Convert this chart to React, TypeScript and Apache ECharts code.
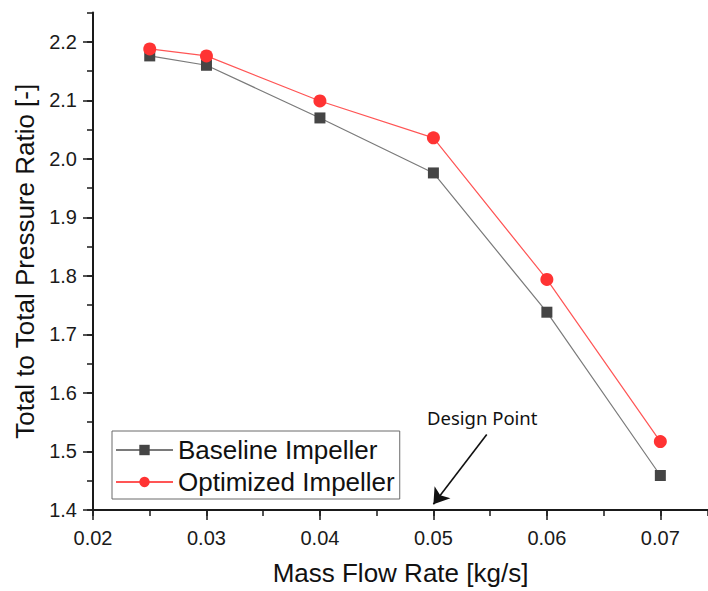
import React, { useEffect, useRef } from "react";
import * as echarts from "echarts";

const massFlow = [0.025, 0.03, 0.04, 0.05, 0.06, 0.07];
const baseline = [2.176, 2.16, 2.07, 1.976, 1.738, 1.459];
const optimized = [2.188, 2.176, 2.099, 2.036, 1.794, 1.517];
const seriesNames = ["Baseline Impeller", "Optimized Impeller"];
const xMajorTicks = [0.02, 0.03, 0.04, 0.05, 0.06, 0.07];
const yMajorTicks = [1.4, 1.5, 1.6, 1.7, 1.8, 1.9, 2.0, 2.1, 2.2];
const arrowFrom = [0.0547, 1.529];
const arrowTo = [0.05, 1.41];
const annotationText = "Design Point";

const AXIS_COLOR = "#1a1a1a";
const FONT = "Liberation Sans";

export default function App() {
  const ref = useRef<HTMLDivElement>(null);
  useEffect(() => {
    if (!ref.current) return;
    const chart = echarts.init(ref.current, null, { renderer: "svg" });
    const xMin = 0.02, xMax = 0.0742, yMin = 1.4, yMax = 2.25;
    const minorAxisCommon = (min: number, max: number, interval: number) => ({
      type: "value",
      min,
      max,
      interval,
      axisLine: { show: true, lineStyle: { color: AXIS_COLOR, width: 2 } },
      axisTick: { show: true, length: 6, lineStyle: { color: AXIS_COLOR, width: 1.5 } },
      axisLabel: { show: false },
      splitLine: { show: false },
    });
    chart.setOption({
      animation: false,
      backgroundColor: "#ffffff",
      grid: { left: 93, right: 0, top: 12.6, bottom: 78, containLabel: false },
      legend: {
        data: seriesNames,
        orient: "vertical",
        left: 112,
        top: 431,
        itemWidth: 57,
        itemHeight: 13,
        itemGap: 6,
        padding: [6, 5, 4, 3],
        borderColor: "#6a6a6a",
        borderWidth: 1,
        textStyle: { fontSize: 26, fontFamily: FONT, color: "#111" },
      },
      xAxis: [
        { ...minorAxisCommon(xMin, xMax, 0.005), position: "bottom" },
        {
          type: "value",
          position: "bottom",
          min: xMin,
          max: xMax,
          interval: 0.01,
          axisLine: { show: false },
          axisTick: { show: true, length: 10, customValues: xMajorTicks, lineStyle: { color: AXIS_COLOR, width: 1.5 } },
          axisLabel: {
            customValues: xMajorTicks,
            formatter: (v: number) => v.toFixed(2),
            fontSize: 20,
            fontFamily: FONT,
            color: "#1a1a1a",
            margin: 18,
          },
          splitLine: { show: false },
          name: "Mass Flow Rate [kg/s]",
          nameLocation: "middle",
          nameGap: 50,
          nameTextStyle: { fontSize: 26, fontFamily: FONT, color: "#111" },
        },
      ],
      yAxis: [
        { ...minorAxisCommon(yMin, yMax, 0.05), position: "left" },
        {
          type: "value",
          position: "left",
          min: yMin,
          max: yMax,
          interval: 0.1,
          axisLine: { show: false },
          axisTick: { show: true, length: 10, customValues: yMajorTicks, lineStyle: { color: AXIS_COLOR, width: 1.5 } },
          axisLabel: {
            customValues: yMajorTicks,
            formatter: (v: number) => v.toFixed(1),
            fontSize: 20,
            fontFamily: FONT,
            color: "#1a1a1a",
            margin: 16,
          },
          splitLine: { show: false },
          name: "Total to Total Pressure Ratio [-]",
          nameLocation: "middle",
          nameGap: 55,
          nameTextStyle: { fontSize: 26, fontFamily: FONT, color: "#111" },
        },
      ],
      series: [
        {
          name: seriesNames[0],
          type: "line",
          xAxisIndex: 0,
          yAxisIndex: 0,
          data: massFlow.map((x, i) => [x, baseline[i]]),
          symbol: "rect",
          symbolSize: 11,
          itemStyle: { color: "#454545" },
          lineStyle: { color: "#7a7a7a", width: 1.2 },
          markLine: {
            silent: true,
            symbol: ["none", "arrow"],
            symbolSize: 15,
            label: { show: false },
            lineStyle: { color: "#111", width: 1.6, type: "solid" },
            itemStyle: { color: "#111" },
            data: [[{ coord: arrowFrom }, { coord: arrowTo }]],
          },
        },
        {
          name: seriesNames[1],
          type: "line",
          xAxisIndex: 0,
          yAxisIndex: 0,
          data: massFlow.map((x, i) => [x, optimized[i]]),
          symbol: "circle",
          symbolSize: 13,
          itemStyle: { color: "#ff3333" },
          lineStyle: { color: "#ff5555", width: 1.2 },
        },
      ],
      graphic: [
        {
          type: "text",
          left: 427,
          top: 408,
          style: {
            text: annotationText,
            font: "18.5px Noto Sans",
            fill: "#111",
          },
        },
      ],
    });
    return () => chart.dispose();
  }, []);
  return <div ref={ref} style={{ width: 708, height: 591, position: "absolute", left: 0, top: 0 }} />;
}
